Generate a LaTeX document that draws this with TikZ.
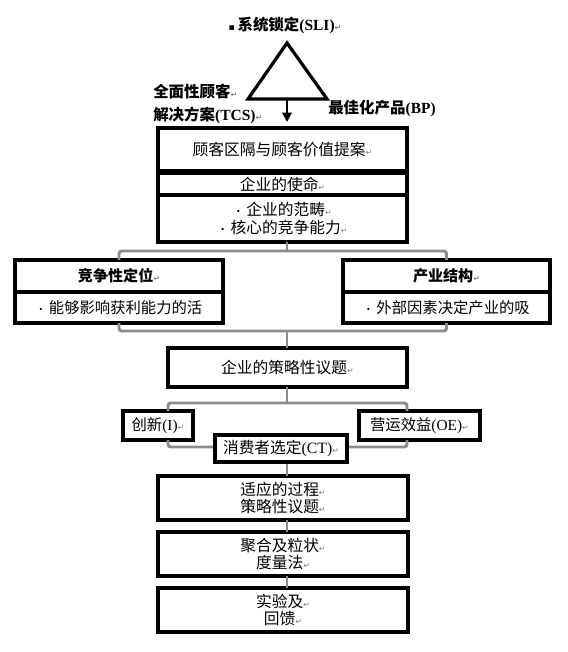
\documentclass[tikz,border=0pt]{standalone}
\usepackage{fontspec}
\setmainfont{Noto Sans CJK SC}
\newfontfamily\tnr{Liberation Serif}
\newfontfamily\dejavu{DejaVu Sans}
\usetikzlibrary{arrows.meta}
\definecolor{connc}{gray}{0.55}
\newcommand\retm{{\dejavu\fontsize{6}{6}\selectfont\textcolor{gray}{↵}}}
\newcommand\bt{{\fontsize{8}{8}\selectfont ·}\,}
\tikzset{
  box/.style={draw=black, line width=2.3pt, fill=white, inner sep=0pt, outer sep=0pt, align=center,
    font=\fontsize{11.8}{15}\selectfont},
  sidebox/.style={box, font=\fontsize{11.5}{14}\selectfont},
  head/.style={inner sep=0pt, font=\bfseries\fontsize{11.6}{14}\selectfont},
  conn/.style={draw=connc, line width=2.2pt, rounded corners=2pt},
  tri/.style={draw=black, line width=2.4pt, line join=miter},
  arr/.style={draw=black, line width=1.6pt, -{Triangle[length=7pt,width=7pt]}}
}
\begin{document}
\begin{tikzpicture}[x=0.75pt,y=-0.75pt]
\useasboundingbox (0,0) rectangle (567,652);

% top triangle
\coordinate (apex) at (287,43);
\coordinate (tl) at (248,99);
\coordinate (tr) at (327,99);
\coordinate (tb) at (287,99);
\draw[tri] (apex) -- (tl) -- (tr) -- cycle;

\node[head] (sli) at (285,25) {{\dejavu\fontsize{7}{7}\selectfont ▪}\,系统锁定{\tnr (SLI)}\retm};
\node[head, anchor=west] (tcs1) at (153,92) {全面性顾客\retm};
\node[head, anchor=west] (tcs2) at (153,115) {解决方案{\tnr (TCS)}\retm};
\node[head, anchor=west] (bp) at (328,108) {最佳化产品{\tnr (BP)}};

% main column boxes
\node[box, minimum width=186.75pt, minimum height=32.25pt] (b1) at (282.5,149.5) {顾客区隔与顾客价值提案\retm};
\node[box, minimum width=186.75pt, minimum height=16.5pt] (b2a) at (282.5,184) {企业的使命\retm};
\node[box, minimum width=186.75pt, minimum height=35.25pt] (b2b) at (282.5,218.5) {\bt 企业的范畴\retm\\[-2pt]\bt 核心的竞争能力\retm};

\draw[arr, shorten >=4.5pt] (tb) -- (b1.north -| tb);

% side boxes
\node[box, minimum width=156pt, minimum height=24pt, font=\bfseries\fontsize{11.3}{14}\selectfont] (L1) at (119,276) {竞争性定位\retm};
\node[sidebox, minimum width=156pt, minimum height=23.25pt] (L2) at (119,307.5) {\bt 能够影响获利能力的活};
\node[box, minimum width=155.25pt, minimum height=24pt, font=\bfseries\fontsize{11.3}{14}\selectfont] (R1) at (446.5,276) {产业结构\retm};
\node[sidebox, minimum width=155.25pt, minimum height=23.25pt] (R2) at (446.5,307.5) {\bt 外部因素决定产业的吸};

% strategy
\node[box, minimum width=179.25pt, minimum height=29.25pt] (S) at (287.5,367.5) {企业的策略性议题\retm};
\node[sidebox, minimum width=52.5pt, minimum height=21.75pt] (I) at (158,425.5) {创新{\tnr (I)}\retm};
\node[sidebox, minimum width=90.75pt, minimum height=21.75pt] (OE) at (419.5,425.5) {营运效益{\tnr (OE)}\retm};

% lower boxes
\node[box, minimum width=187.5pt, minimum height=33pt] (A1) at (283,498) {适应的过程\retm\\[-2pt]策略性议题\retm};
\node[box, minimum width=187.5pt, minimum height=33pt] (A2) at (283,554) {聚合及粒状\retm\\[-2pt]度量法\retm};
\node[box, minimum width=187.5pt, minimum height=33pt] (A3) at (283,610) {实验及\retm\\[-2pt]回馈\retm};

% junctions
\coordinate (j1) at (287,251);
\coordinate (j2) at (287,331);
\coordinate (j3) at (287,403);
\coordinate (j4) at (287,447);

% gray connectors
\draw[conn] (b2b.south -| j1) -- (j1);
\draw[conn] (L1.north) |- (j1) -| (R1.north);
\draw[conn] (L2.south) |- (j2) -| (R2.south);
\draw[conn] (j2) -- (S.north -| j2);
\draw[conn] (S.south -| j3) -- (j3);
\draw[conn] (I.north -| S.west) |- (j3) -| (OE.north -| S.east);
\draw[conn] (I.south -| S.west) |- (j4) -| (OE.south -| S.east);
\draw[conn] (j4) -- (A1.north -| j4);
\draw[conn] (A1.south -| j4) -- (A2.north -| j4);
\draw[conn] (A2.south -| j4) -- (A3.north -| j4);

% consumer box on top of bracket
\node[box, minimum width=99pt, minimum height=20.25pt] (CT) at (281,448.5) {消费者选定{\tnr (CT)}\retm};
\end{tikzpicture}
\end{document}
